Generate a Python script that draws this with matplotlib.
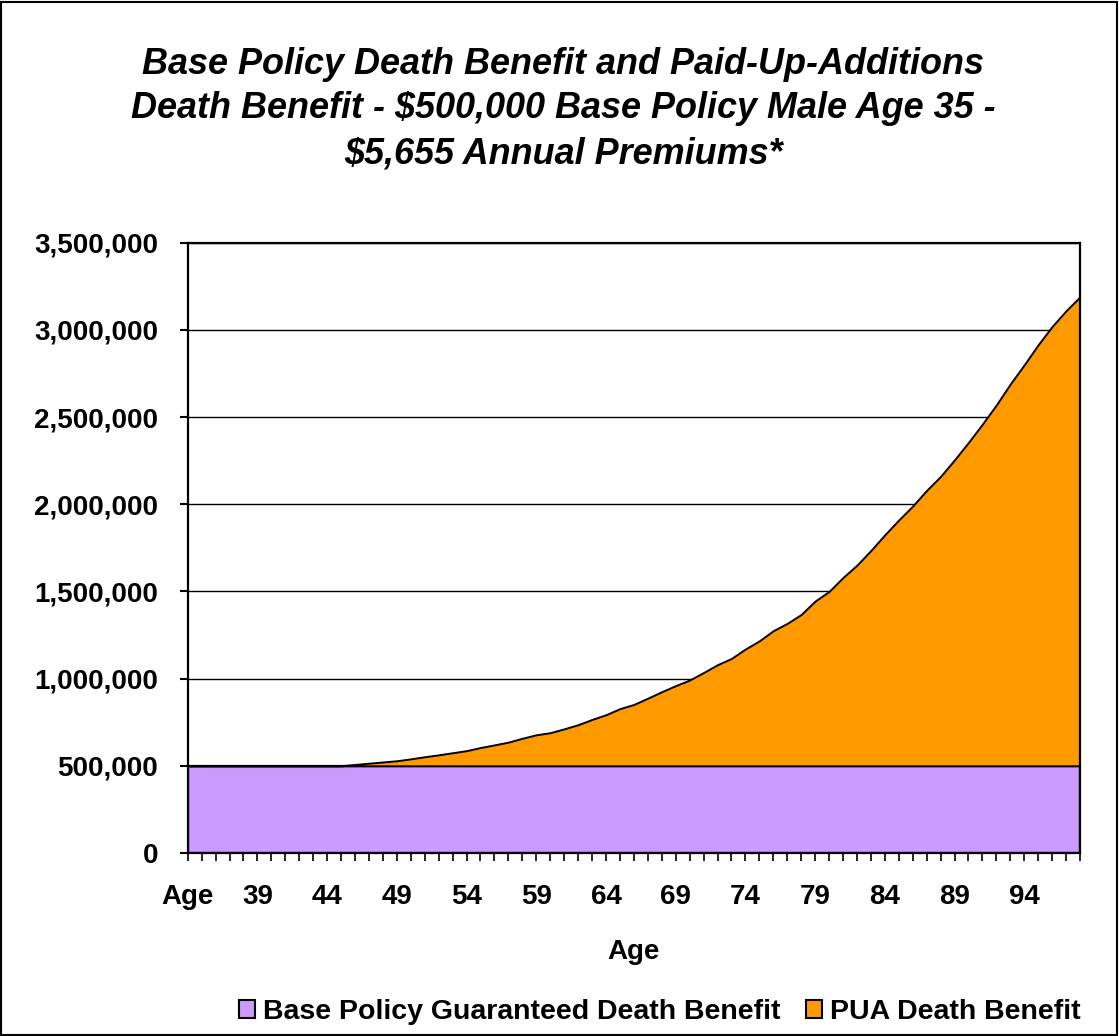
import matplotlib
matplotlib.use("Agg")
import matplotlib.pyplot as plt
from matplotlib.patches import Patch, Rectangle
from matplotlib.ticker import FuncFormatter

categories = ["Age"] + [str(a) for a in range(35, 99)]

base_values = [
    500000, 500000, 500000, 500000, 500000, 500000, 500000, 500000, 500000, 500000,
    500000, 500000, 500000, 500000, 500000, 500000, 500000, 500000, 500000, 500000,
    500000, 500000, 500000, 500000, 500000, 500000, 500000, 500000, 500000, 500000,
    500000, 500000, 500000, 500000, 500000, 500000, 500000, 500000, 500000, 500000,
    500000, 500000, 500000, 500000, 500000, 500000, 500000, 500000, 500000, 500000,
    500000, 500000, 500000, 500000, 500000, 500000, 500000, 500000, 500000, 500000,
    500000, 500000, 500000, 500000, 500000,
]

pua_values = [
    0, 0, 0, 0, 0, 0, 0, 0, 0, 0,
    0, 0, 8000, 15000, 22000, 29000, 40000, 52000, 63000, 75000,
    87000, 105000, 120000, 136000, 158000, 178000, 190000, 212000, 236000, 266000,
    293000, 328000, 352000, 388000, 425000, 460000, 492000, 535000, 580000, 616000,
    670000, 717000, 775000, 817000, 868000, 945000, 1000000, 1080000, 1151000, 1235000,
    1325000, 1410000, 1490000, 1580000, 1660000, 1755000, 1855000, 1960000, 2070000, 2190000,
    2300000, 2415000, 2520000, 2610000, 2690000,
]

series_names = ["Base Policy Guaranteed Death Benefit", "PUA Death Benefit"]
title_text = ("Base Policy Death Benefit and Paid-Up-Additions\n"
              "Death Benefit - $500,000 Base Policy Male Age 35 -\n"
              "$5,655 Annual Premiums*")

PURPLE = "#CC99FF"
ORANGE = "#FF9900"
FONT = ["Liberation Sans", "DejaVu Sans"]

plt.rcParams["font.family"] = FONT
plt.rcParams["font.weight"] = "bold"

W, H = 1119, 1036
fig = plt.figure(figsize=(W / 100, H / 100), dpi=100)
fig.patch.set_facecolor("white")

left, right, top, bottom = 187.7, 1080, 242.7, 853
ax = fig.add_axes([left / W, 1 - bottom / H, (right - left) / W, (bottom - top) / H])

x = list(range(len(categories)))
total = [b + p for b, p in zip(base_values, pua_values)]

ax.fill_between(x, 0, base_values, facecolor=PURPLE, edgecolor="black", linewidth=1.6, zorder=2)
ax.fill_between(x, base_values, total, facecolor=ORANGE, edgecolor="black", linewidth=1.4, zorder=2)

ax.set_xlim(0, len(categories) - 1)
ax.set_ylim(0, 3500000)

ax.set_yticks([0, 500000, 1000000, 1500000, 2000000, 2500000, 3000000, 3500000])
ax.yaxis.set_major_formatter(FuncFormatter(lambda v, p: f"{int(v):,}"))
ax.grid(axis="y", color="black", linewidth=1.0, zorder=1)
ax.set_axisbelow(True)

ax.set_xticks(x)
ax.set_xticklabels([c if i % 5 == 0 else "" for i, c in enumerate(categories)])

ax.tick_params(axis="y", direction="out", length=5.8, width=1.5, pad=15.5, labelsize=20)
ax.tick_params(axis="x", direction="out", length=5.5, width=1.2, pad=17, labelsize=20)
for lab in ax.get_xticklabels() + ax.get_yticklabels():
    lab.set_fontweight("bold")

for s in ax.spines.values():
    s.set_color("black")
    s.set_linewidth(1.6)
    s.set_zorder(5)

ax.set_xlabel("Age", fontsize=20, fontweight="bold", labelpad=21)

fig.text(563 / W, 1 - 109 / H, title_text, ha="center", va="center",
         fontsize=25.9, fontweight="bold", fontstyle="italic", linespacing=1.37)

handles = [Patch(facecolor=PURPLE, edgecolor="black", linewidth=1.5, label=series_names[0]),
           Patch(facecolor=ORANGE, edgecolor="black", linewidth=1.5, label=series_names[1])]
fig.legend(handles=handles, loc="center", bbox_to_anchor=(660 / W, 1 - 1012 / H), ncol=2,
           frameon=False, prop={"family": FONT, "weight": "bold", "size": 20.5},
           handlelength=0.55, handleheight=0.55, handletextpad=0.3, columnspacing=0.9)

fig.add_artist(Rectangle((0.001, 0.001), 0.997, 0.997, transform=fig.transFigure,
                         fill=False, edgecolor="black", linewidth=1.5))

fig.savefig("out.png", dpi=100)
